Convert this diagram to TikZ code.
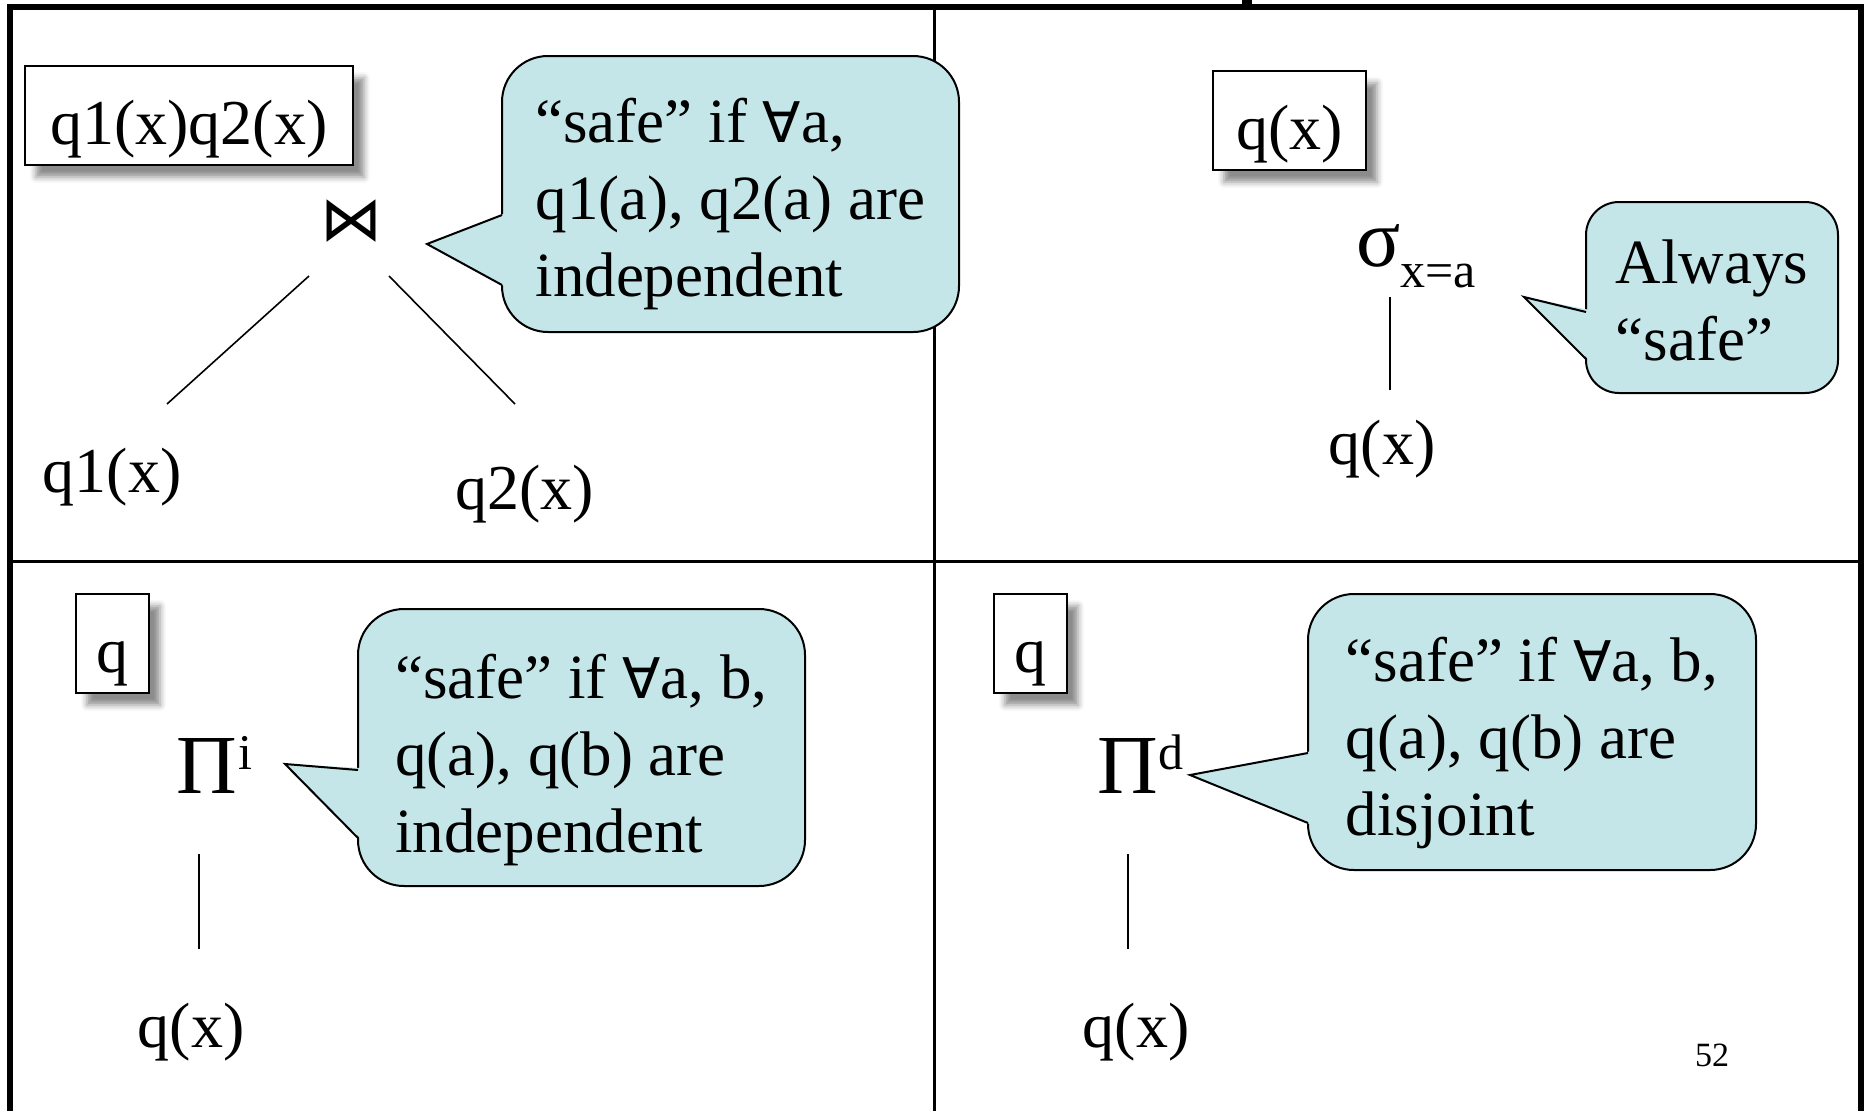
\documentclass[tikz,border=0pt]{standalone}
\usepackage{fontspec}
\setmainfont{Liberation Serif}
\newfontfamily\dejavu{DejaVu Sans}
\usetikzlibrary{calc,shadows.blur}
\definecolor{bubblecyan}{RGB}{196,230,232}
\tikzset{
  frame line/.style={line width=6pt,line join=miter},
  cell line/.style={line width=3pt},
  tree edge/.style={line width=1.6pt},
  tree label/.style={inner sep=0pt,anchor=base,font=\fontsize{64}{77}\selectfont},
  query box/.style={
    draw=black,
    fill=white,
    line width=2pt,
    anchor=north west,
    inner xsep=0pt,
    inner ysep=0pt,
    text height=78pt,
    text depth=21pt,
    font=\fontsize{64}{77}\selectfont,
    blur shadow={shadow xshift=11pt,shadow yshift=-12pt,shadow blur radius=6pt,shadow opacity=45}
  },
  bubble/.style={
    draw=black,
    fill=bubblecyan,
    line width=2pt,
    rounded corners=46pt,
    align=left,
    anchor=north west,
    inner xsep=0pt,
    inner ysep=0pt,
    font=\fontsize{63}{77}\selectfont
  },
  pointer fill/.style={fill=bubblecyan},
  pointer line/.style={draw=black,line width=2pt,line join=miter}
}
\newcommand{\forallsym}{{\dejavu\fontsize{56}{77}\selectfont ∀}}
% #1 bubble, #2 and #3 base of the pointer below the bubble top, #4 tip
\newcommand{\bubblepointer}[4]{%
  \fill[pointer fill] ([shift={(5,#2-2)}]#1.north west) -- (#4)
    -- ([shift={(5,#3+2)}]#1.north west) -- cycle;
  \draw[pointer line] ([shift={(1,#2)}]#1.north west) -- (#4)
    -- ([shift={(1,#3)}]#1.north west);
}

\begin{document}
\begin{tikzpicture}[x=1pt,y=-1pt]
  \useasboundingbox (0,0) rectangle (1866,1111);

  % frame and cells
  \fill (1242,0) rectangle (1252,5);
  \draw[frame line] (10,1111) -- (10,7) -- (1860.5,7) -- (1860.5,1111);
  \draw[cell line] (10,561) -- (1860,561);
  \draw[cell line] (934.5,7) -- (934.5,1111);

  % join
  \node[query box,minimum width=328pt] (qbox1) at (24,65) {q1(x)q2(x)};
  \node[inner sep=0pt,font=\dejavu\fontsize{62}{62}\selectfont] (join) at (351,221) {⋈};
  \node[tree label] (q1) at (112,492) {q1(x)};
  \node[tree label] (q2) at (524.5,509) {q2(x)};
  \draw[tree edge] ([shift={(-42,55)}]join.center) -- ([shift={(55,-88)}]q1.base);
  \draw[tree edge] ([shift={(38,55)}]join.center) -- ([shift={(-9.5,-105)}]q2.base);
  \node[bubble,minimum width=457pt,text height=240pt,text depth=36pt] (tip1) at (501,55)
    {“safe” if \forallsym a,\\q1(a), q2(a) are\\independent};
  \bubblepointer{tip1}{160}{230}{427,244}

  % selection
  \node[query box,minimum width=153pt] (qbox2) at (1212,70) {q(x)};
  \node[tree label,anchor=base west] (sel) at (1356,266)
    {{\fontsize{82}{82}\selectfont σ}\raisebox{-21pt}{\fontsize{50}{60}\selectfont x=a}};
  \node[tree label] (qx2) at (1382,464) {q(x)};
  \draw[tree edge] ([shift={(34,31)}]sel.base west) -- ([shift={(8,-74)}]qx2.base);
  \node[bubble,rounded corners=33pt,minimum width=252pt,text height=158pt,text depth=33pt] (tip2) at (1585,201)
    {Always\\“safe”};
  \bubblepointer{tip2}{111}{158}{1524,297}

  % independent projection
  \node[query box,minimum width=73pt] (qbox3) at (75,593) {q};
  \node[tree label,anchor=base west] (proji) at (176,793)
    {{\fontsize{84}{84}\selectfont Π}\kern2pt\raisebox{24pt}{\fontsize{50}{60}\selectfont i}};
  \node[tree label] (qx3) at (191,1047) {q(x)};
  \draw[tree edge] ([shift={(23,61)}]proji.base west) -- ([shift={(8,-98)}]qx3.base);
  \node[bubble,minimum width=447pt,text height=243pt,text depth=34pt] (tip3) at (357,608)
    {“safe” if \forallsym a, b,\\q(a), q(b) are\\independent};
  \bubblepointer{tip3}{162}{230}{285,764}

  % disjoint projection
  \node[query box,minimum width=73pt] (qbox4) at (993,593) {q};
  \node[tree label,anchor=base west] (projd) at (1097,793)
    {{\fontsize{84}{84}\selectfont Π}\kern1pt\raisebox{24pt}{\fontsize{50}{60}\selectfont d}};
  \node[tree label] (qx4) at (1136,1047) {q(x)};
  \draw[tree edge] ([shift={(31,61)}]projd.base west) -- ([shift={(-8,-98)}]qx4.base);
  \node[bubble,minimum width=448pt,text height=241pt,text depth=35pt] (tip4) at (1307,593)
    {“safe” if \forallsym a, b,\\q(a), q(b) are\\disjoint};
  \bubblepointer{tip4}{160}{230}{1190,775}

  \node[inner sep=0pt,anchor=base,font=\fontsize{34}{40}\selectfont] (page) at (1712,1066) {52};
\end{tikzpicture}
\end{document}
